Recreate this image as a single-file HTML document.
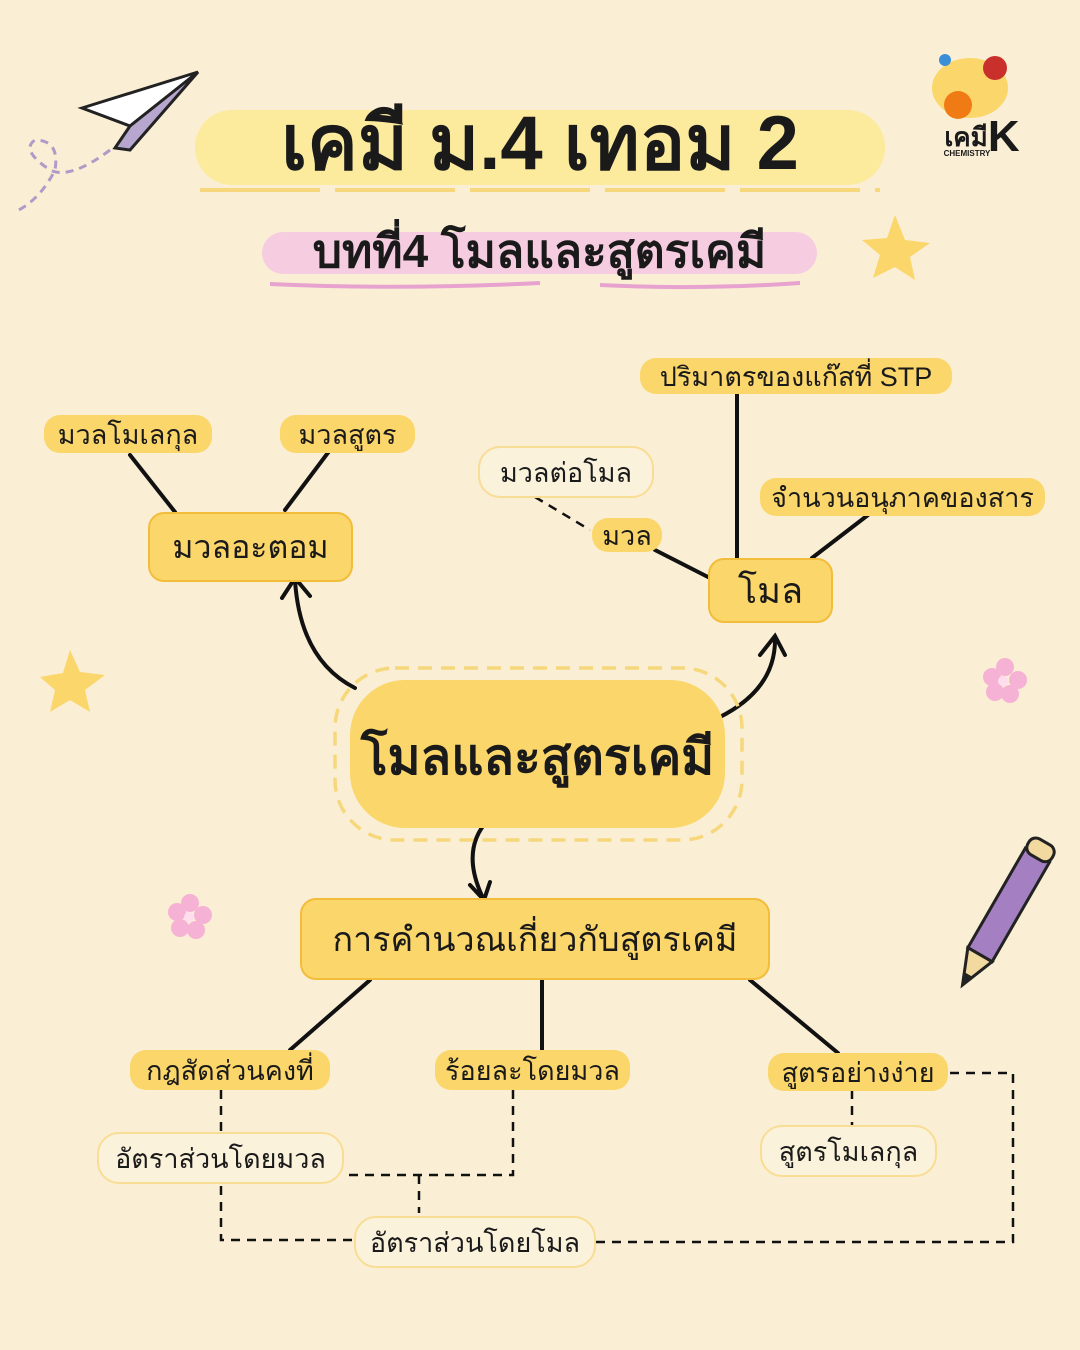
<!DOCTYPE html>
<html><head><meta charset="utf-8">
<style>
body{margin:0;}
#c{position:relative;width:1080px;height:1350px;background:#faefd5;overflow:hidden;font-family:"Liberation Sans","DejaVu Sans",sans-serif;color:#1a1a1a;}
.n{position:absolute;display:flex;align-items:center;justify-content:center;box-sizing:border-box;white-space:nowrap;}
.pill{background:#fbd66b;border-radius:16px;font-size:27px;}
.box{background:#fbd66b;border:2.5px solid #f2bd3a;border-radius:16px;}
.out{background:#fbf2dc;border:2.5px solid #f8dd94;border-radius:22px;font-size:27px;}
svg{position:absolute;left:0;top:0;}
</style></head><body><div id="c">
<svg width="1080" height="1350">
<rect x="195" y="110" width="690" height="75" rx="37" fill="#fcea9d"/>
<rect x="262" y="232" width="555" height="42" rx="21" fill="#f6cde0"/>
<path d="M270 284 Q400 290 540 283 M600 285 Q700 290 800 283" stroke="#e7a2cf" stroke-width="4" fill="none"/>
<path d="M200 190 L880 190" stroke="#f6d77b" stroke-width="4" stroke-dasharray="120 15"/>
<path d="M82 108 L198 72 L130 126 Z" fill="#fff" stroke="#222" stroke-width="3"/>
<path d="M130 126 L198 72 L130 150 L115 148 Z" fill="#b7a7cf" stroke="#222" stroke-width="3"/>
<path d="M110 150 Q70 180 50 170 Q20 150 35 140 Q60 140 55 170 Q40 200 15 212" stroke="#b09ac8" stroke-width="3" fill="none" stroke-dasharray="8 6"/>
<path d="M895 215 L905 240 L930 243 L910 257 L915 280 L895 267 L873 278 L880 255 L862 240 L887 238 Z" fill="#fbd66b"/>
<path d="M70 650 L80 672 L105 675 L85 690 L90 712 L70 700 L50 712 L55 690 L40 677 L63 673 Z" fill="#fbd66b"/>
<g fill="#f6b2d4"><circle cx="1005" cy="667" r="9"/><circle cx="1018" cy="680" r="9"/><circle cx="1010" cy="694" r="9"/><circle cx="995" cy="692" r="9"/><circle cx="992" cy="677" r="9"/><circle cx="1003" cy="681" r="5" fill="#fde"/></g>
<g fill="#f6b2d4"><circle cx="190" cy="903" r="9"/><circle cx="203" cy="915" r="9"/><circle cx="196" cy="930" r="9"/><circle cx="180" cy="928" r="9"/><circle cx="177" cy="912" r="9"/><circle cx="189" cy="917" r="5" fill="#fde"/></g>
<g transform="translate(1000,920) rotate(30)">
<rect x="-14" y="-75" width="28" height="115" fill="#a47fc2" stroke="#222" stroke-width="3"/>
<rect x="-14" y="-90" width="28" height="18" rx="8" fill="#f2d9a0" stroke="#222" stroke-width="3"/>
<path d="M-14 40 L14 40 L0 75 Z" fill="#f2d9a0" stroke="#222" stroke-width="3"/>
<path d="M-5 63 L5 63 L0 75 Z" fill="#222"/>
</g>
<ellipse cx="970" cy="88" rx="38" ry="30" fill="#fbd66b"/>
<circle cx="995" cy="68" r="12" fill="#c9302c"/>
<circle cx="958" cy="105" r="14" fill="#f07b14"/>
<circle cx="945" cy="60" r="6" fill="#3b8ed8"/>
<g stroke="#111" stroke-width="4" fill="none" stroke-linecap="round">
<path d="M130 455 L175 512 M330 450 L285 510"/>
<path d="M655 550 L708 577 M737 393 L737 558 M868 515 L812 558"/>
<path d="M355 688 Q300 660 295 580 M282 598 L295 578 L310 596"/>
<path d="M718 718 Q775 690 775 640 M760 655 L775 636 L785 655"/>
<path d="M488 820 Q460 850 483 898 M470 885 L484 900 L490 882"/>
<path d="M370 980 L290 1050 M542 980 L542 1050 M750 980 L838 1053"/>
</g>
<g stroke="#111" stroke-width="2.5" fill="none" stroke-dasharray="9 7">
<path d="M535 497 L590 530"/>
<path d="M221 1090 L221 1240 L355 1240"/>
<path d="M513 1090 L513 1175 L345 1175"/>
<path d="M419 1175 L419 1213"/>
<path d="M852 1090 L852 1125"/>
<path d="M950 1073 L1013 1073 L1013 1242 L595 1242"/>
</g>
<rect x="335" y="668" width="407" height="172" rx="60" fill="none" stroke="#f6d77b" stroke-width="3.5" stroke-dasharray="14 9"/>
<rect x="350" y="680" width="375" height="148" rx="55" fill="#fbd66b"/>
</svg>

<div class="n" style="left:200px;top:98px;width:680px;height:90px;font-size:76px;font-weight:bold;">เคมี ม.4 เทอม 2</div>
<div class="n" style="left:262px;top:222px;width:555px;height:58px;font-size:46px;font-weight:bold;">บทที่4 โมลและสูตรเคมี</div>
<div class="n" style="left:932px;top:112px;width:100px;height:50px;"><span style="font-size:26px;font-weight:bold;">เคมี</span><span style="font-size:44px;font-weight:bold;">K</span></div>
<div class="n" style="left:932px;top:146px;width:70px;height:14px;font-size:8px;font-weight:bold;">CHEMISTRY</div>

<div class="n pill" style="left:640px;top:358px;width:312px;height:36px;">ปริมาตรของแก๊สที่ STP</div>
<div class="n pill" style="left:44px;top:415px;width:168px;height:38px;">มวลโมเลกุล</div>
<div class="n pill" style="left:280px;top:415px;width:135px;height:38px;">มวลสูตร</div>
<div class="n out" style="left:478px;top:446px;width:176px;height:52px;">มวลต่อโมล</div>
<div class="n pill" style="left:760px;top:478px;width:285px;height:38px;">จำนวนอนุภาคของสาร</div>
<div class="n pill" style="left:592px;top:518px;width:70px;height:34px;">มวล</div>
<div class="n box" style="left:148px;top:512px;width:205px;height:70px;font-size:32px;">มวลอะตอม</div>
<div class="n box" style="left:708px;top:558px;width:125px;height:65px;font-size:36px;">โมล</div>
<div class="n" style="left:350px;top:700px;width:375px;height:115px;font-size:50px;font-weight:bold;">โมลและสูตรเคมี</div>
<div class="n box" style="left:300px;top:898px;width:470px;height:82px;font-size:34px;">การคำนวณเกี่ยวกับสูตรเคมี</div>
<div class="n pill" style="left:130px;top:1050px;width:200px;height:40px;">กฎสัดส่วนคงที่</div>
<div class="n pill" style="left:435px;top:1050px;width:195px;height:40px;">ร้อยละโดยมวล</div>
<div class="n pill" style="left:768px;top:1053px;width:180px;height:38px;">สูตรอย่างง่าย</div>
<div class="n out" style="left:97px;top:1132px;width:247px;height:52px;">อัตราส่วนโดยมวล</div>
<div class="n out" style="left:760px;top:1125px;width:177px;height:52px;">สูตรโมเลกุล</div>
<div class="n out" style="left:354px;top:1216px;width:242px;height:52px;">อัตราส่วนโดยโมล</div>
</div></body></html>
